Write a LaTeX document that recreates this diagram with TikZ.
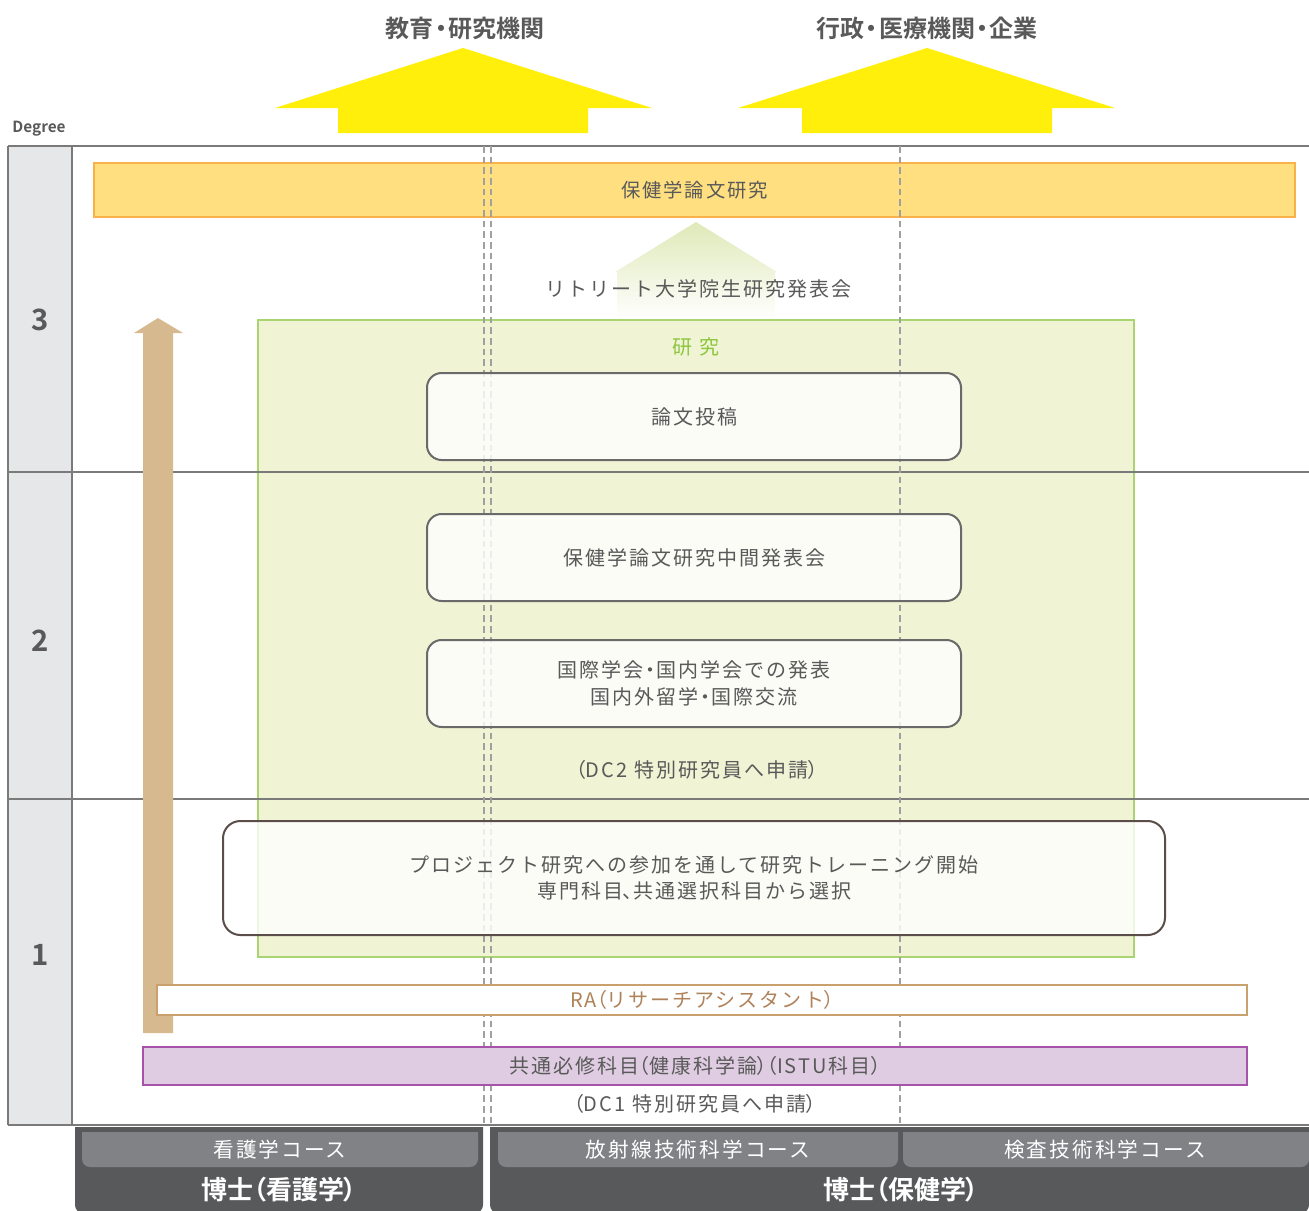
\documentclass[tikz,border=0pt]{standalone}
\usepackage{fontspec}
\setmainfont{Noto Sans CJK JP}[BoldFont={Noto Sans CJK JP Bold}]
\newfontfamily\jpsp{Noto Sans CJK JP}[LetterSpace=10,BoldFont={Noto Sans CJK JP Bold}]
\newfontfamily\jpp{Noto Sans CJK JP}[RawFeature=+palt,BoldFont={Noto Sans CJK JP Bold}]
\newcommand\jlp{{\jpp （}}
\newcommand\jrp{{\jpp ）}}
\newcommand\jdot{{\jpp\hspace{1pt}・\hspace{1pt}}}
\newcommand\jcm{{\jpp 、}}
\newcommand\pxu{0.75pt}
\definecolor{txt}{HTML}{595959}
\definecolor{yel}{HTML}{FFEF0A}
\definecolor{orfill}{HTML}{FFDF80}
\definecolor{ordraw}{HTML}{F9B24A}
\definecolor{grfill}{HTML}{F0F4D4}
\definecolor{grdraw}{HTML}{A9D46F}
\definecolor{grtxt}{HTML}{8DC63F}
\definecolor{tanfill}{HTML}{D6B98F}
\definecolor{tandraw}{HTML}{C9A06E}
\definecolor{tantxt}{HTML}{B0825A}
\definecolor{pufill}{HTML}{DFCCE2}
\definecolor{pudraw}{HTML}{A654A9}
\definecolor{darkbox}{HTML}{58595B}
\definecolor{midbox}{HTML}{808285}
\definecolor{leftcol}{HTML}{E6E7E8}
\definecolor{gridline}{HTML}{7A7A7A}
\definecolor{dashcol}{HTML}{A0A0A0}
\definecolor{lightarrow}{HTML}{DFE9B8}
\definecolor{boxdraw}{HTML}{6A6A6A}
\definecolor{pjdraw}{HTML}{5B4E4A}
\begin{document}
\begin{tikzpicture}[x=0.75pt,y=-0.75pt,
  lbl/.style={text=txt,font=\jpsp\fontsize{15pt}{20pt}\selectfont,inner sep=0pt,align=center},
  title/.style={text=txt,font=\jpp\bfseries\fontsize{18pt}{20pt}\selectfont,inner sep=0pt},
  degnum/.style={text=txt,font=\bfseries\fontsize{22pt}{24pt}\selectfont,inner sep=0pt},
  rbox/.style={draw=boxdraw,line width=1.5pt,rounded corners=11pt,fill=white,fill opacity=0.8,text opacity=1,
    text=txt,font=\jpsp\fontsize{15pt}{20pt}\selectfont,align=center,inner sep=0pt},
  grid/.style={draw=gridline,line width=0.9pt},
  dline/.style={draw=dashcol,line width=0.8pt,dash pattern=on 5pt off 3pt},
  crs/.style={text=white,font=\jpsp\fontsize{15.5pt}{20pt}\selectfont,inner sep=0pt},
  doc/.style={text=white,font=\jpp\bfseries\fontsize{19.5pt}{20pt}\selectfont,inner sep=0pt}
]
\useasboundingbox (0,0) rectangle (1309,1210);
% left degree column
\fill[leftcol] (8,146) rectangle (72,1125);
% yellow arrows
\fill[yel] (338,133) -- (338,108) -- (275,108) -- (463,48) -- (652,108) -- (588,108) -- (588,133) -- cycle;
\fill[yel] (802,133) -- (802,108) -- (738,108) -- (927,48) -- (1115,108) -- (1052,108) -- (1052,133) -- cycle;
\node[title] (t1) at (465,28) {教育\jdot 研究機関};
\node[title] (t2) at (927,28) {行政\jdot 医療機関\jdot 企業};
\node[text=txt,font=\bfseries\fontsize{11.5pt}{12pt}\selectfont,inner sep=0pt] (deg) at (39,129) {Degree};
% orange bar
\node[draw=ordraw,fill=orfill,line width=1.5pt,minimum width=1201*\pxu,minimum height=54*\pxu,
  text=txt,font=\jpsp\fontsize{14.5pt}{20pt}\selectfont,inner sep=0pt] (ob) at (694.5,190) {保健学論文研究};
% light green arrow
\shade[top color=lightarrow,middle color=lightarrow!85!white,bottom color=white] (617,320) -- (617,272) -- (615,272) -- (696,222) -- (777,272) -- (775,272) -- (775,320) -- cycle;
\node[lbl] (retreat) at (698,289) {リトリート大学院生研究発表会};
% green research box
\node[draw=grdraw,fill=grfill,line width=1pt,minimum width=876*\pxu,minimum height=637*\pxu,inner sep=0pt] (gb) at (696,638.5) {};
\node[text=grtxt,font=\fontsize{15pt}{20pt}\selectfont,inner sep=0pt] (gl) at (696,347) {研\hspace{5pt}究};
% grid lines
\draw[grid] (8,146) -- (1309,146);
\draw[grid] (8,472) -- (1309,472);
\draw[grid] (8,799) -- (1309,799);
\draw[grid] (8,1125) -- (1309,1125);
\draw[grid] (8,146) -- (8,1125);
\draw[grid] (72,146) -- (72,1125);
% dashed lines
\draw[dline] (484,146) -- (484,1125);
\draw[dline] (491,146) -- (491,1125);
\draw[dline] (900,146) -- (900,1125);
% degree numbers
\node[degnum] (d3) at (40,320) {3};
\node[degnum] (d2) at (40,641) {2};
\node[degnum] (d1) at (40,955) {1};
% rounded boxes
\node[rbox,minimum width=534*\pxu,minimum height=87*\pxu] (b1) at (694,416.5) {論文投稿};
\node[rbox,minimum width=534*\pxu,minimum height=87*\pxu] (b2) at (694,557.5) {保健学論文研究中間発表会};
\node[rbox,minimum width=534*\pxu,minimum height=87*\pxu] (b3) at (694,683.5) {国際学会\jdot 国内学会での発表\\国内外留学\jdot 国際交流};
\node[lbl] (dc2) at (697,770) {\jlp DC2 特別研究員へ申請\jrp};
\node[rbox,draw=pjdraw,rounded corners=13pt,minimum width=942*\pxu,minimum height=114*\pxu] (pj) at (694,878)
  {プロジェクト研究への参加を通して研究トレーニング開始\\専門科目\jcm 共通選択科目から選択};
% tan arrow
\fill[tanfill] (143,1033) -- (143,333) -- (134,333) -- (158,318) -- (183,333) -- (173,333) -- (173,1033) -- cycle;
% RA box
\node[draw=tandraw,fill=white,line width=1.5pt,minimum width=1090*\pxu,minimum height=30*\pxu,inner sep=0pt,
  text=tantxt,font=\jpsp\fontsize{15pt}{20pt}\selectfont] (ra) at (702,1000) {RA\jlp リサーチアシスタント\jrp};
% purple box
\node[draw=pudraw,fill=pufill,line width=1.5pt,minimum width=1104*\pxu,minimum height=38*\pxu,inner sep=0pt,
  text=txt,font=\jpsp\fontsize{15pt}{20pt}\selectfont] (pu) at (695,1066) {共通必修科目\jlp 健康科学論\jrp\jlp ISTU科目\jrp};
\node[lbl] (dc1) at (695,1104) {\jlp DC1 特別研究員へ申請\jrp};
% bottom course boxes
\fill[darkbox] (75,1127) [rounded corners=6pt] -- (75,1213) -- (483,1213) [sharp corners] -- (483,1127) -- cycle;
\fill[darkbox] (490,1127) [rounded corners=6pt] -- (490,1213) -- (1309,1213) [sharp corners] -- (1309,1127) -- cycle;
\fill[midbox] (82,1132) [rounded corners=6pt] -- (82,1167) -- (478,1167) [sharp corners] -- (478,1132) -- cycle;
\fill[midbox] (498,1132) [rounded corners=6pt] -- (498,1167) -- (898,1167) [sharp corners] -- (898,1132) -- cycle;
\fill[midbox] (903,1132) [rounded corners=6pt] -- (903,1167) -- (1309,1167) [sharp corners] -- (1309,1132) -- cycle;
\node[crs] (c1) at (280,1150) {看護学コース};
\node[crs] (c2) at (698,1150) {放射線技術科学コース};
\node[crs] (c3) at (1105,1150) {検査技術科学コース};
\node[doc] (p1) at (279,1190) {博士\jlp 看護学\jrp};
\node[doc] (p2) at (901,1190) {博士\jlp 保健学\jrp};
\end{tikzpicture}
\end{document}
